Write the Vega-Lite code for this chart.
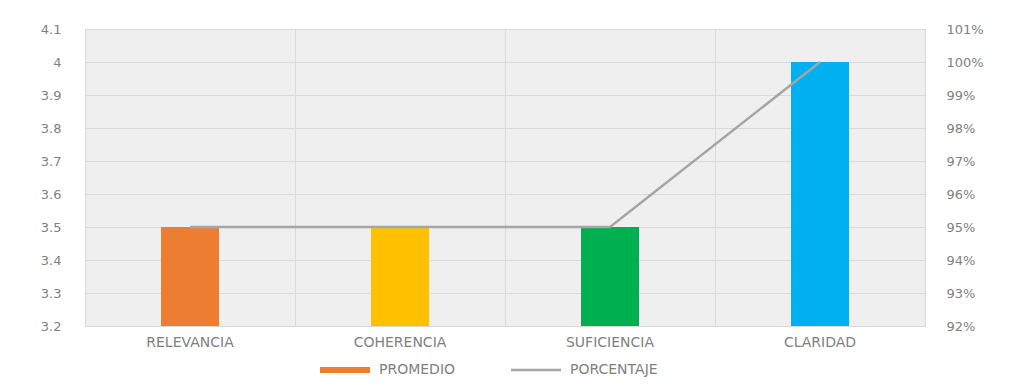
{
  "$schema": "https://vega.github.io/schema/vega-lite/v6.json",
  "width": 840,
  "height": 297,
  "autosize": "none",
  "padding": {"left": 85, "top": 29, "right": 86, "bottom": 59},
  "background": "white",
  "config": {
    "font": "DejaVu Sans",
    "view": {"fill": "#efefef", "stroke": "#d9d9d9", "strokeWidth": 1},
    "axis": {"labelColor": "#7f7f7f", "labelFont": "DejaVu Sans", "labelFontSize": 12, "domain": false, "ticks": false, "title": null}
  },
  "data": {"values": [
    {"criterio": "RELEVANCIA", "promedio": 3.5, "porcentaje": 0.95},
    {"criterio": "COHERENCIA", "promedio": 3.5, "porcentaje": 0.95},
    {"criterio": "SUFICIENCIA", "promedio": 3.5, "porcentaje": 0.95},
    {"criterio": "CLARIDAD", "promedio": 4.0, "porcentaje": 1.0}
  ]},
  "encoding": {
    "x": {
      "field": "criterio", "type": "nominal", "sort": null,
      "scale": {"paddingInner": 0, "paddingOuter": 0},
      "axis": {"labelAngle": 0, "labelPadding": 9, "grid": true, "gridColor": "#d9d9d9", "bandPosition": 0, "labelFontSize": 14}
    }
  },
  "layer": [
    {
      "mark": {"type": "bar", "size": 58},
      "encoding": {
        "y": {
          "field": "promedio", "type": "quantitative",
          "scale": {"domain": [3.2, 4.1], "zero": false, "nice": false},
          "axis": {"values": [3.2, 3.3, 3.4, 3.5, 3.6, 3.7, 3.8, 3.9, 4.0, 4.1], "format": "~g", "grid": true, "gridColor": "#d9d9d9", "labelPadding": 24, "labelFontSize": 13}
        },
        "y2": {"datum": 3.2},
        "fill": {
          "field": "criterio", "type": "nominal",
          "scale": {"domain": ["RELEVANCIA", "COHERENCIA", "SUFICIENCIA", "CLARIDAD"], "range": ["#ED7D31", "#FFC000", "#00B050", "#00B0F0"]},
          "legend": null
        }
      }
    },
    {
      "mark": {"type": "line", "strokeWidth": 2.5},
      "encoding": {
        "y": {
          "field": "porcentaje", "type": "quantitative",
          "scale": {"domain": [0.92, 1.01], "zero": false, "nice": false},
          "axis": {"orient": "right", "values": [0.92, 0.93, 0.94, 0.95, 0.96, 0.97, 0.98, 0.99, 1.0, 1.01], "format": ".0%", "grid": false, "labelPadding": 21, "labelFontSize": 13}
        },
        "stroke": {
          "datum": "PORCENTAJE",
          "scale": {"domain": ["PROMEDIO", "PORCENTAJE"], "range": ["#ED7D31", "#A5A5A5"]},
          "legend": {
            "title": null,
            "orient": "none",
            "direction": "horizontal",
            "legendX": 253,
            "legendY": 334,
            "symbolSize": 2500,
            "labelFontSize": 14,
            "labelColor": "#7f7f7f",
            "labelOffset": 27,
            "columnPadding": 50,
            "encode": {
              "symbols": {
                "update": {
                  "shape": {"signal": "datum.value === 'PROMEDIO' ? 'M-1,-0.12H1V0.12H-1Z' : 'M-1,0H1'"},
                  "fill": {"signal": "datum.value === 'PROMEDIO' ? '#ED7D31' : 'transparent'"},
                  "stroke": {"signal": "datum.value === 'PROMEDIO' ? '#ED7D31' : '#A5A5A5'"},
                  "strokeWidth": {"signal": "datum.value === 'PROMEDIO' ? 0 : 2.5"}
                }
              }
            }
          }
        }
      }
    }
  ],
  "resolve": {"scale": {"y": "independent"}}
}
